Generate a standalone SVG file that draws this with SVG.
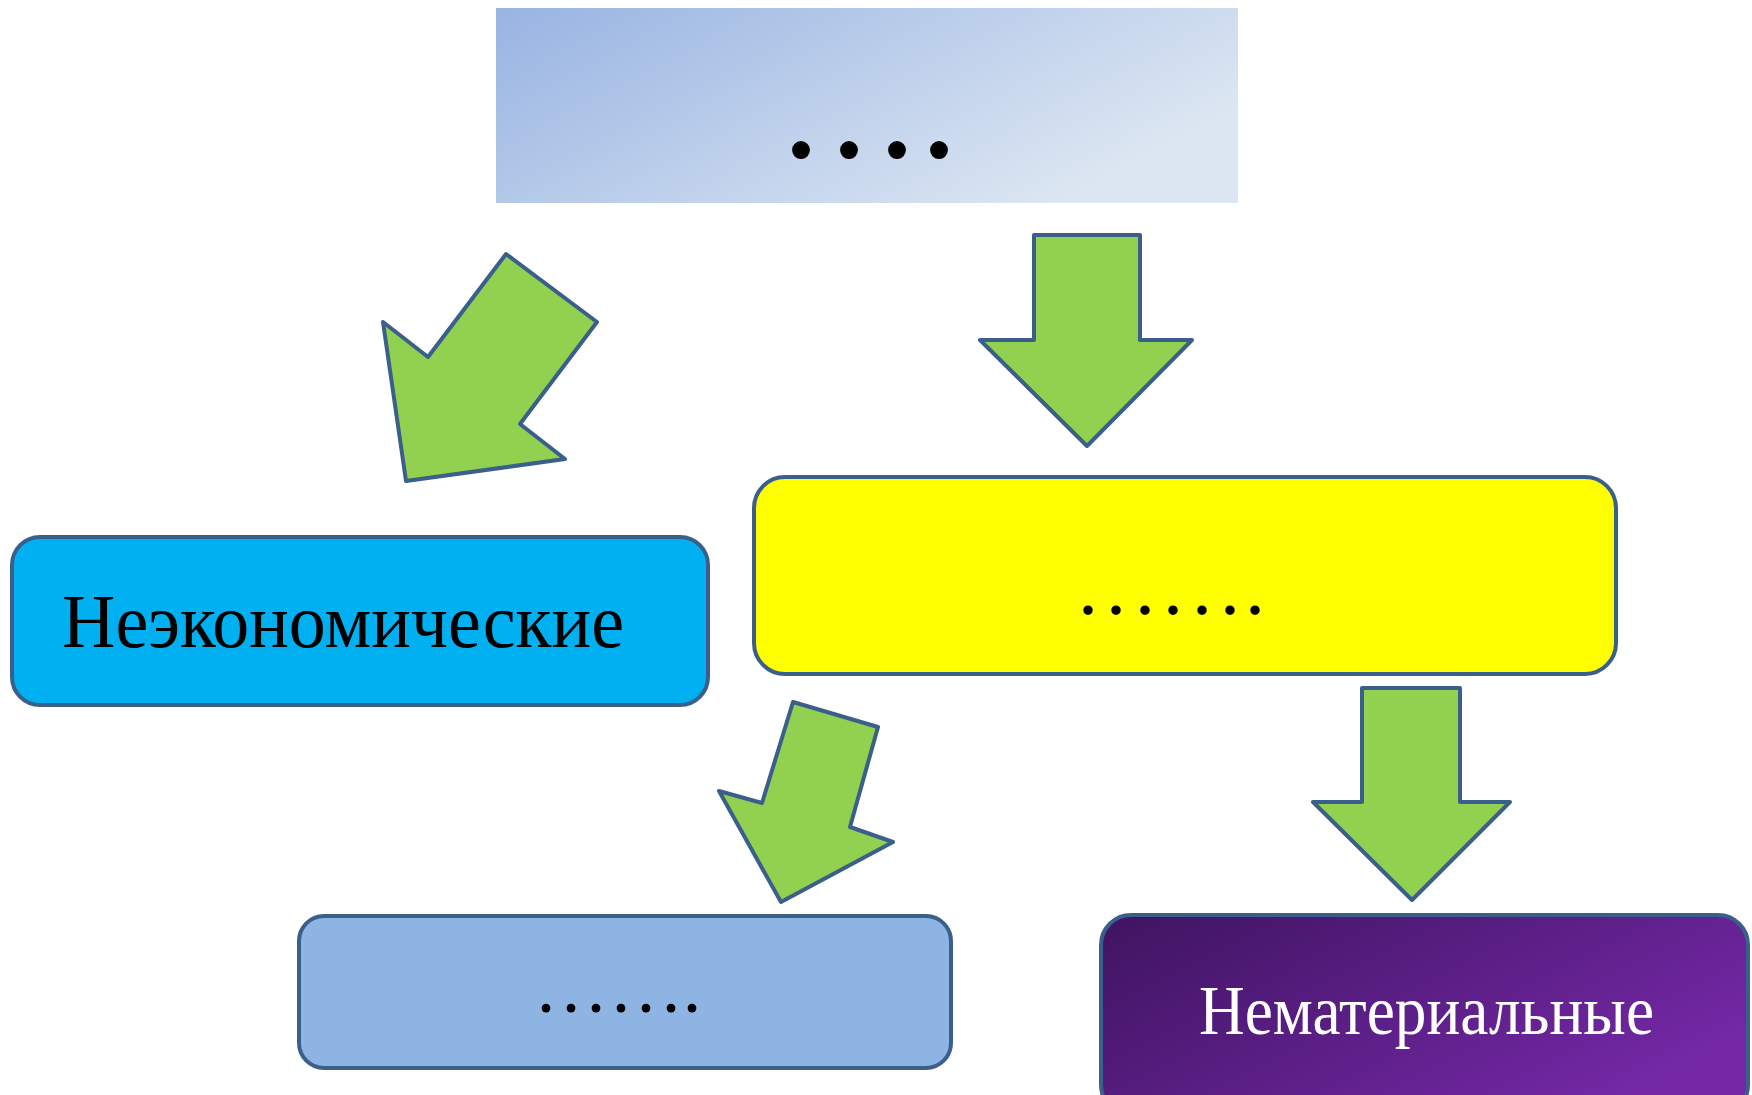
<svg xmlns="http://www.w3.org/2000/svg" width="1752" height="1095" viewBox="0 0 1752 1095">
<defs>
<linearGradient id="gTop" x1="0" y1="0" x2="1" y2="0.5">
<stop offset="0" stop-color="#98B4E2"/>
<stop offset="1" stop-color="#DCE6F2"/>
</linearGradient>
<linearGradient id="gPurple" x1="0" y1="0" x2="1" y2="0.6">
<stop offset="0" stop-color="#3E1460"/>
<stop offset="1" stop-color="#7428A6"/>
</linearGradient>
<style>
.box{stroke:#3A5F8B;stroke-width:4}
.arrow{fill:#92D050;stroke:#3A5F8B;stroke-width:4;stroke-linejoin:round}
.lbl{font-family:"Liberation Serif","Times New Roman",serif}
.dots{font-family:"Liberation Serif","Times New Roman",serif;fill:#000;text-anchor:middle}
</style>
</defs>
<rect width="1752" height="1095" fill="#FFFFFF"/>
<g id="connectors">
<polygon class="arrow" points="1034,235 1140,235 1140,340 1192,340 1087,446 980,340 1034,340"/>
<polygon class="arrow" points="506,254 597,322 520,424 565,459 406,481 383,322 428,357"/>
<polygon class="arrow" points="793,702 878,727 850,827 893,842 781,902 719,791 762,803"/>
<polygon class="arrow" points="1362,688 1460,688 1460,802 1510,802 1412,900 1313,802 1362,802"/>
</g>
<g id="node-top">
<rect x="496" y="8" width="742" height="195" fill="url(#gTop)"/>
<text class="dots" font-size="110" font-weight="bold" y="157"><tspan x="801">.</tspan><tspan x="849">.</tspan><tspan x="897">.</tspan><tspan x="939">.</tspan></text>
</g>
<g id="node-yellow">
<rect class="box" x="754" y="477" width="862" height="197" rx="31" fill="#FFFF00"/>
<text class="dots" font-size="80" y="614"><tspan x="1088">.</tspan><tspan x="1116">.</tspan><tspan x="1145">.</tspan><tspan x="1173">.</tspan><tspan x="1202">.</tspan><tspan x="1230">.</tspan><tspan x="1255">.</tspan></text>
</g>
<g id="node-neeconomic">
<rect class="box" x="12" y="537" width="696" height="168" rx="28" fill="#00B0F0"/>
<text class="lbl" x="62" y="647" font-size="76" fill="#000000" textLength="562" lengthAdjust="spacingAndGlyphs">Неэкономические</text>
</g>
<g id="node-lightblue">
<rect class="box" x="299" y="916" width="652" height="152" rx="25" fill="#8EB4E3"/>
<text class="dots" font-size="74" y="1012"><tspan x="546">.</tspan><tspan x="571">.</tspan><tspan x="596">.</tspan><tspan x="621">.</tspan><tspan x="646">.</tspan><tspan x="671">.</tspan><tspan x="692">.</tspan></text>
</g>
<g id="node-nematerial">
<rect class="box" x="1101" y="915" width="647" height="200" rx="30" fill="url(#gPurple)"/>
<text class="lbl" x="1199" y="1034" font-size="70" fill="#FFFFFF" textLength="455" lengthAdjust="spacingAndGlyphs">Нематериальные</text>
</g>
</svg>
